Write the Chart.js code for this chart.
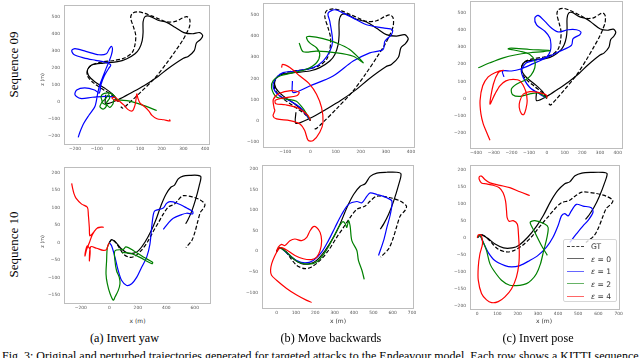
<!DOCTYPE html>
<html><head><meta charset="utf-8">
<script src="https://cdn.jsdelivr.net/npm/chart.js@4.4.1/dist/chart.umd.min.js"></script>
<style>
body{margin:0;background:#fff;}
#page{position:relative;width:640px;height:358px;overflow:hidden;background:#fff;}
#page canvas{position:absolute;}
.t{position:absolute;white-space:nowrap;line-height:1;}
.serif{font-family:"Liberation Serif","Times New Roman",serif;color:#000;}
.sans{font-family:"DejaVu Sans",sans-serif;color:#333;}
</style></head>
<body><div id="page"></div>
<script>
// ---------- Sequence 09 ----------
const gt09 = [[0,0],[-23,31],[-69,70],[-115,110],[-142,149],[-142,188],[-122,216],[-82,232],[-16,243],[31,258],[64,290],[77,337],[80,392],[70,439],[57,493],[64,520],[90,529],[123,520],[156,504],[190,486],[223,470],[263,473],[296,493],[316,501],[329,486],[329,446],[316,407],[296,360],[263,298],[223,227],[170,141],[103,55],[50,-8],[21,-39],[11,-31]];
const e0_09 = [[0,0],[-23,39],[-62,78],[-109,117],[-138,154],[-142,188],[-122,216],[-69,227],[-3,235],[37,251],[77,282],[97,313],[110,360],[114,407],[114,470],[123,501],[143,504],[183,480],[223,467],[263,437],[302,407],[342,400],[375,407],[389,388],[378,365],[360,345],[350,300],[322,266],[300,255],[230,195],[183,148],[120,95],[64,55],[0,12],[-58,-13],[-58,40]];
const yaw09_e1 = [[0,0],[-20,25],[-60,30],[-120,25],[-175,18],[-200,40],[-192,68],[-155,80],[-110,68],[-88,50],[-80,100],[-65,150],[-45,195],[-35,215],[-60,232],[-105,243],[-160,258],[-205,278],[-215,300],[-200,312],[-150,296],[-90,276],[-55,282],[-42,310],[-32,325],[-27,310],[-32,275],[-42,240],[-55,200],[-70,150],[-85,100],[-95,50],[-108,-30],[-135,-80],[-160,-130],[-177,-180],[-185,-212]];
const yaw09_e2 = [[0,0],[-30,45],[-65,48],[-80,30],[-75,0],[-85,-30],[-70,-45],[-55,-25],[-75,-5],[-60,15],[-45,40],[-40,20],[-55,-10],[-40,-35],[-25,-15],[-20,10],[0,10],[40,5],[69,-4],[115,-23],[177,-53]];
const yaw09_e4 = [[0,0],[-20,10],[-30,20],[-15,25],[0,8],[25,-20],[45,-48],[65,-55],[78,-15],[85,45],[90,20],[100,-10],[120,-30],[140,-55],[155,-82],[178,-102],[210,-108],[238,-115],[236,-106]];
const back09_e1 = [[0,0],[-42,63],[-82,94],[-122,117],[-142,141],[-149,172],[-135,204],[-109,227],[-56,235],[11,251],[50,282],[77,329],[88,376],[77,470],[70,509],[97,525],[130,509],[183,478],[223,454],[289,439],[326,431],[322,407],[296,376],[289,337],[236,321],[170,282],[90,211],[-3,164],[-69,133],[-72,188]];
const back09_e2 = [[0,0],[-25,50],[-56,92],[-95,102],[-135,112],[-155,155],[-149,188],[-122,211],[-69,227],[-16,243],[24,274],[37,313],[24,345],[-3,368],[-16,395],[-3,399],[50,388],[103,368],[156,337],[210,274],[170,305],[103,321],[24,329],[-29,326],[-45,368]];
const back09_e4 = [[0,0],[-10,25],[-50,60],[-100,75],[-138,80],[-140,96],[-105,108],[-55,118],[-45,134],[-78,142],[-125,128],[-148,100],[-145,60],[-142,47],[-149,23],[-135,8],[-82,0],[-42,-16],[-23,-47],[-9,-94],[11,-94],[37,-55],[50,-8],[44,63],[24,125],[-3,172],[-42,211],[-82,251],[-111,266],[-115,251]];
const pose09_e1 = [[0,0],[-39,25],[-96,64],[-133,122],[-143,161],[-115,209],[-60,225],[0,245],[20,280],[23,316],[17,355],[-11,394],[-58,432],[-68,472],[-49,487],[-11,452],[26,413],[64,390],[120,403],[167,403],[192,390],[186,374],[148,351],[139,312],[73,277],[-2,239],[-77,204],[-152,171],[-199,161],[-250,161],[-242,126]];
const pose09_e2 = [[0,0],[-40,30],[-90,28],[-150,12],[-193,22],[-200,55],[-172,83],[-120,110],[-90,135],[-68,180],[-68,220],[-96,258],[-152,277],[-218,291],[-200,295],[-96,287],[17,281],[-20,275],[-96,268],[-180,255],[-246,238],[-321,209],[-387,180]];
const pose09_e4 = [[0,0],[-2,19],[-50,35],[-96,40],[-133,25],[-152,-14],[-156,-52],[-143,-91],[-130,-95],[-118,-62],[-111,-14],[-120,45],[-152,103],[-190,112],[-231,103],[-265,74],[-293,25],[-321,-33],[-302,83],[-274,151],[-246,165],[-293,151],[-331,126],[-362,74],[-377,-14],[-372,-91],[-359,-149],[-340,-198],[-321,-246]];

// ---------- Sequence 10 ----------
const gt10 = [[0,0],[17,9],[43,2],[69,-14],[104,-34],[147,-42],[181,-38],[225,-22],[268,2],[311,34],[346,58],[380,82],[415,102],[458,110],[484,122],[518,134],[588,130],[639,122],[671,110],[665,100],[639,86],[622,62],[601,30],[579,6],[538,-14]];
const e0_10 = [[0,0],[17,9],[52,-2],[86,-18],[130,-30],[173,-30],[207,-22],[251,2],[294,34],[328,66],[363,106],[398,138],[432,158],[458,164],[484,182],[518,190],[570,192],[620,192],[643,188],[631,162],[605,122],[579,90],[553,66],[536,54]];
const yaw10_e1 = [[0,0],[16,-9],[40,-42],[63,-80],[87,-108],[122,-122],[157,-117],[192,-99],[227,-70],[262,-42],[285,-5],[297,42],[309,80],[320,91],[379,99],[402,112],[426,117],[472,113],[543,99],[585,89],[585,82],[543,84],[508,80],[449,70],[414,56],[379,38]];
const yaw10_e2 = [[0,0],[-14,-14],[-19,-52],[-23,-89],[-14,-117],[5,-145],[28,-164],[40,-155],[63,-136],[75,-117],[70,-99],[51,-80],[40,-52],[40,-23],[98,-19],[117,-12],[168,-22],[239,-41],[304,-56],[300,-60],[215,-42],[145,-30],[87,-28]];
const yaw10_e4 = [[0,0],[-7,-5],[-19,-19],[-42,-22],[-89,-16],[-131,-12],[-140,-52],[-135,-20],[-154,-9],[-164,-19],[-171,-38],[-160,-20],[-140,0],[-120,22],[-90,40],[-60,44],[-42,44],[-80,43],[-120,25],[-137,20],[-140,42],[-147,79],[-154,101],[-194,110],[-234,127],[-248,140],[-257,154],[-264,169]];
const back10_e1 = [[0,0],[17,9],[52,-4],[104,-22],[147,-28],[190,-22],[233,-2],[268,26],[302,58],[337,90],[372,114],[415,121],[441,118],[467,134],[484,142],[518,138],[570,130],[596,122],[588,90],[570,58],[553,26],[527,-10]];
const back10_e2 = [[0,0],[17,9],[60,-6],[112,-26],[164,-31],[207,-26],[251,-2],[294,34],[320,58],[342,72],[354,68],[363,58],[372,74],[380,62],[389,26],[415,2],[423,-22],[441,-46],[453,-68]];
const back10_e4 = [[0,0],[9,10],[26,17],[43,14],[69,26],[95,30],[130,26],[156,34],[173,50],[190,60],[207,58],[225,46],[233,26],[225,2],[207,-14],[181,-20],[138,-18],[95,-10],[60,1],[26,9],[10,5],[-10,-12],[-25,-30],[-31,-46],[-26,-58],[0,-70],[52,-90],[104,-106],[156,-119],[181,-124]];
const pose10_e1 = [[0,0],[13,6],[30,-14],[54,-43],[87,-67],[137,-82],[170,-86],[211,-82],[260,-67],[301,-52],[343,-28],[375,1],[400,35],[417,64],[433,71],[450,64],[466,79],[491,98],[524,93],[565,88],[573,74],[548,50],[524,35],[491,11],[458,-14]];
const pose10_e2 = [[0,0],[13,6],[30,-14],[46,-38],[63,-77],[87,-101],[120,-125],[161,-140],[211,-140],[244,-135],[268,-125],[293,-106],[313,-77],[329,-38],[345,0],[351,30],[334,40],[285,50],[262,45],[285,16],[318,-23],[347,-52]];
const pose10_e4 = [[0,0],[5,8],[13,9],[21,6],[26,-18],[13,-48],[5,-86],[5,-125],[21,-164],[46,-183],[71,-191],[104,-188],[137,-174],[170,-150],[194,-116],[206,-77],[208,-38],[204,11],[198,40],[178,50],[158,48],[148,59],[145,79],[140,108],[128,132],[109,147],[79,154],[46,158],[21,161],[10,171],[10,179],[21,181],[38,171],[63,161],[112,154],[161,147],[211,135],[260,124]];

// ---------- tick labels ----------
const xTicks09yaw = [-200,-100,0,100,200,300,400];
const yTicks09yaw = [-200,-100,0,100,200,300,400,500];
const xTicks09back = [-100,0,100,200,300,400];
const yTicks09back = [-100,0,100,200,300,400,500];
const xTicks09pose = [-400,-300,-200,-100,0,100,200,300,400];
const yTicks09pose = [-200,-100,0,100,200,300,400,500];
const xTicks10yaw = [-200,0,200,400,600];
const yTicks10yaw = [-150,-100,-50,0,50,100,150,200];
const xTicks10back = [0,100,200,300,400,500,600,700];
const yTicks10back = [-100,-50,0,50,100,150,200];
const xTicks10pose = [0,100,200,300,400,500,600,700];
const yTicks10pose = [-200,-150,-100,-50,0,50,100,150,200];

const seriesLabels = ['GT','\u03b5 = 0','\u03b5 = 1','\u03b5 = 2','\u03b5 = 4'];
const seriesColors = ['#000000','#000000','#0000ff','#008000','#ff0000'];

// ---------- layout ----------
const panels = [
  {box:[65,4,209,144],   xr:[-246,418], yr:[-251,566], xt:xTicks09yaw,  yt:yTicks09yaw,  s:[gt09,e0_09,yaw09_e1,yaw09_e2,yaw09_e4]},
  {box:[264,2,414,147],  xr:[-185,412], yr:[-125,554], xt:xTicks09back, yt:yTicks09back, s:[gt09,e0_09,back09_e1,back09_e2,back09_e4]},
  {box:[471,0,622,148],  xr:[-428,424], yr:[-291,568], xt:xTicks09pose, yt:yTicks09pose, s:[gt09,e0_09,pose09_e1,pose09_e2,pose09_e4]},
  {box:[65,166,210,303], xr:[-311,707], yr:[-172,214], xt:xTicks10yaw,  yt:yTicks10yaw,  s:[gt10,e0_10,yaw10_e1,yaw10_e2,yaw10_e4]},
  {box:[263,164,413,308],xr:[-70,705],  yr:[-137.5,208], xt:xTicks10back, yt:yTicks10back, s:[gt10,e0_10,back10_e1,back10_e2,back10_e4]},
  {box:[471,164,619,309],xr:[-31,702],  yr:[-209.7,211.8], xt:xTicks10pose, yt:yTicks10pose, s:[gt10,e0_10,pose10_e1,pose10_e2,pose10_e4]}
];

const PADL=40, PADR=10, PADT=6, XAXH=14;
const page = document.getElementById('page');
const fmt = v => v < 0 ? '\u2212' + Math.abs(v) : String(v);

const framePlugin = {
  id:'frame',
  afterDatasetsDraw(chart){
    const a = chart.chartArea, ctx = chart.ctx;
    ctx.save();
    ctx.strokeStyle = '#bdbdbd'; ctx.lineWidth = 1;
    ctx.strokeRect(Math.round(a.left)-0.5, Math.round(a.top)-0.5, Math.round(a.right-a.left)+1, Math.round(a.bottom-a.top)+1);
    ctx.restore();
  }
};

const tickFont = {family:'DejaVu Sans', size:4.4};
let lastChart = null;
panels.forEach(p => {
  const [L,T,R,B] = p.box;
  const c = document.createElement('canvas');
  const w = (R-L) + PADL + PADR, h = (B-T) + PADT + XAXH;
  c.width = w; c.height = h;
  c.style.left = (L-PADL)+'px'; c.style.top = (T-PADT)+'px';
  c.style.width = w+'px'; c.style.height = h+'px';
  page.appendChild(c);
  const datasets = p.s.map((arr,i) => ({
    label: seriesLabels[i],
    data: arr.map(([x,y]) => ({x,y})),
    showLine:true, fill:false, pointRadius:0, pointHoverRadius:0,
    borderColor: seriesColors[i], borderWidth: 1.2,
    borderDash: i===0 ? [4,2] : [],
    tension: 0.3, order: 5-i
  }));
  lastChart = new Chart(c, {
    type:'scatter',
    data:{datasets},
    options:{
      responsive:false, maintainAspectRatio:false, animation:false, devicePixelRatio:1,
      layout:{padding:{left:0,right:PADR,top:PADT,bottom:0}},
      plugins:{legend:{display:false}, tooltip:{enabled:false}},
      scales:{
        x:{type:'linear', min:p.xr[0], max:p.xr[1],
           grid:{display:false, drawTicks:false}, border:{display:false},
           ticks:{font:tickFont, color:'#555', padding:2, maxRotation:0, autoSkip:false, callback:v=>fmt(v)},
           afterBuildTicks:s=>{ s.ticks = p.xt.map(v=>({value:v})); },
           afterFit:s=>{ s.height = XAXH; }},
        y:{type:'linear', min:p.yr[0], max:p.yr[1],
           grid:{display:false, drawTicks:false}, border:{display:false},
           ticks:{font:tickFont, color:'#555', padding:5, autoSkip:false, callback:v=>fmt(v)},
           afterBuildTicks:s=>{ s.ticks = p.yt.map(v=>({value:v})); },
           afterFit:s=>{ s.width = PADL; }}
      }
    },
    plugins:[framePlugin]
  });
});

// ---------- text ----------
function addText(html, cls, cx, cy, size, rot, color){
  const d = document.createElement('div');
  d.className = 't ' + cls;
  d.innerHTML = html;
  d.style.fontSize = size + 'px';
  if (color) d.style.color = color;
  page.appendChild(d);
  d.style.left = (cx - d.offsetWidth/2) + 'px';
  d.style.top = (cy - d.offsetHeight/2) + 'px';
  if (rot) d.style.transform = 'rotate(' + rot + 'deg)';
  return d;
}
addText('Sequence 09','serif',13,64,13,-90);
addText('Sequence 10','serif',13,244,13,-90);
addText('z (m)','sans',42.5,79,4.8,-90,'#333');
addText('z (m)','sans',42.5,241,4.8,-90,'#333');
addText('x (m)','sans',137.5,320.5,6,0,'#333');
addText('x (m)','sans',338,320.5,6,0,'#333');
addText('x (m)','sans',544,320.5,6,0,'#333');
addText('(a) Invert yaw','serif',124.5,337.5,12.2,0);
addText('(b) Move backwards','serif',331,337.5,12.2,0);
addText('(c) Invert pose','serif',538,337.5,12.2,0);
const fig = document.createElement('div');
fig.className = 't serif';
fig.style.cssText = 'left:2px;top:350px;font-size:12px;line-height:12px;';
fig.textContent = 'Fig. 3: Original and perturbed trajectories generated for targeted attacks to the Endeavour model. Each row shows a KITTI sequence, and the columns show the';
page.appendChild(fig);

// ---------- legend (inside last panel) ----------
const lg = document.createElement('div');
lg.style.cssText = 'position:absolute;left:563px;top:239px;width:54px;height:63px;background:rgba(255,255,255,0.8);border:1px solid #d6d6d6;border-radius:2px;box-sizing:border-box;';
page.appendChild(lg);
lastChart.data.datasets.forEach((ds,i) => {
  const cy = 6.7 + i*12.5;
  const ln = document.createElement('div');
  const dash = ds.borderDash && ds.borderDash.length;
  ln.style.cssText = 'position:absolute;left:3px;width:17px;top:'+(cy-0.75)+'px;height:0;border-top:1.4px '+(dash?'dashed':'solid')+' '+ds.borderColor+';opacity:'+(dash?0.75:0.6)+';';
  lg.appendChild(ln);
  const tx = document.createElement('div');
  tx.className = 'sans';
  tx.style.cssText = 'position:absolute;left:27px;font-size:7.6px;line-height:9px;top:'+(cy-4.5)+'px;white-space:nowrap;color:#333;';
  tx.innerHTML = i===0 ? 'GT' : ds.label.replace('\u03b5','<i>\u03b5</i>');
  lg.appendChild(tx);
});
</script>
</body></html>
